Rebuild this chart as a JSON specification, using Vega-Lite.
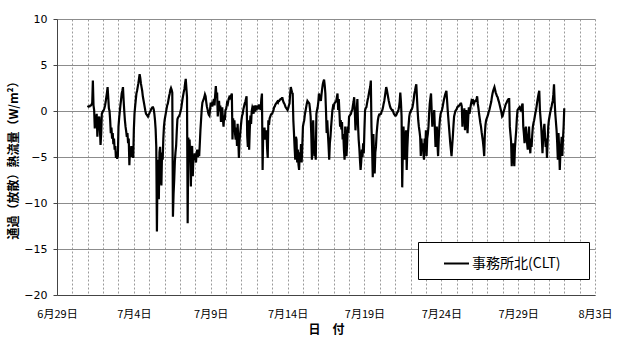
{
"$schema": "https://vega.github.io/schema/vega-lite/v6.json",
"width": 538, "height": 276,
"autosize": {"type": "none"},
"padding": {"left": 57, "top": 19, "right": 30, "bottom": 43},
"background": "white",
"config": {"view": {"stroke": null}},
"datasets": {"flux": [
{"t":"2015-07-01T00:00","v":0.4},{"t":"2015-07-01T01:00","v":0.5},{"t":"2015-07-01T02:00","v":0.5},{"t":"2015-07-01T03:00","v":0.5},{"t":"2015-07-01T04:00","v":0.6},{"t":"2015-07-01T05:00","v":0.6},{"t":"2015-07-01T06:00","v":0.7},{"t":"2015-07-01T07:00","v":0.9},{"t":"2015-07-01T08:00","v":3.3},{"t":"2015-07-01T09:00","v":0.6},{"t":"2015-07-01T10:00","v":0.1},{"t":"2015-07-01T11:00","v":-1.9},{"t":"2015-07-01T12:00","v":-0.5},{"t":"2015-07-01T13:00","v":-1.2},{"t":"2015-07-01T14:00","v":-0.3},{"t":"2015-07-01T15:00","v":-2.8},{"t":"2015-07-01T16:00","v":-1.5},{"t":"2015-07-01T17:00","v":-0.8},{"t":"2015-07-01T18:00","v":-0.6},{"t":"2015-07-01T19:00","v":-2.0},{"t":"2015-07-01T20:00","v":-3.7},{"t":"2015-07-01T21:00","v":-2.5},{"t":"2015-07-01T22:00","v":-0.3},{"t":"2015-07-01T23:00","v":-0.1},
{"t":"2015-07-02T00:00","v":0.0},{"t":"2015-07-02T01:00","v":0.1},{"t":"2015-07-02T02:00","v":0.3},{"t":"2015-07-02T03:00","v":0.6},{"t":"2015-07-02T04:00","v":1.0},{"t":"2015-07-02T05:00","v":1.5},{"t":"2015-07-02T06:00","v":2.0},{"t":"2015-07-02T07:00","v":2.6},{"t":"2015-07-02T08:00","v":1.5},{"t":"2015-07-02T09:00","v":0.3},{"t":"2015-07-02T10:00","v":0.0},{"t":"2015-07-02T11:00","v":-1.0},{"t":"2015-07-02T12:00","v":-2.4},{"t":"2015-07-02T13:00","v":-1.8},{"t":"2015-07-02T14:00","v":-3.0},{"t":"2015-07-02T15:00","v":-2.4},{"t":"2015-07-02T16:00","v":-3.6},{"t":"2015-07-02T17:00","v":-3.0},{"t":"2015-07-02T18:00","v":-4.2},{"t":"2015-07-02T19:00","v":-3.8},{"t":"2015-07-02T20:00","v":-5.1},{"t":"2015-07-02T21:00","v":-4.4},{"t":"2015-07-02T22:00","v":-5.2},{"t":"2015-07-02T23:00","v":-4.9},
{"t":"2015-07-03T00:00","v":-1.7},{"t":"2015-07-03T01:00","v":-0.8},{"t":"2015-07-03T02:00","v":-0.1},{"t":"2015-07-03T03:00","v":0.6},{"t":"2015-07-03T04:00","v":1.2},{"t":"2015-07-03T05:00","v":1.9},{"t":"2015-07-03T06:00","v":2.2},{"t":"2015-07-03T07:00","v":2.6},{"t":"2015-07-03T08:00","v":1.2},{"t":"2015-07-03T09:00","v":0.0},{"t":"2015-07-03T10:00","v":-1.0},{"t":"2015-07-03T11:00","v":-1.7},{"t":"2015-07-03T12:00","v":-2.2},{"t":"2015-07-03T13:00","v":-2.8},{"t":"2015-07-03T14:00","v":-2.4},{"t":"2015-07-03T15:00","v":-3.5},{"t":"2015-07-03T16:00","v":-3.0},{"t":"2015-07-03T17:00","v":-5.9},{"t":"2015-07-03T18:00","v":-4.0},{"t":"2015-07-03T19:00","v":-4.9},{"t":"2015-07-03T20:00","v":-3.8},{"t":"2015-07-03T21:00","v":-5.0},{"t":"2015-07-03T22:00","v":-4.2},{"t":"2015-07-03T23:00","v":-5.1},
{"t":"2015-07-04T00:00","v":-2.0},{"t":"2015-07-04T01:00","v":-0.3},{"t":"2015-07-04T02:00","v":0.5},{"t":"2015-07-04T03:00","v":1.2},{"t":"2015-07-04T04:00","v":1.9},{"t":"2015-07-04T05:00","v":2.2},{"t":"2015-07-04T06:00","v":2.6},{"t":"2015-07-04T07:00","v":3.0},{"t":"2015-07-04T08:00","v":3.5},{"t":"2015-07-04T09:00","v":4.0},{"t":"2015-07-04T10:00","v":3.6},{"t":"2015-07-04T11:00","v":3.0},{"t":"2015-07-04T12:00","v":2.6},{"t":"2015-07-04T13:00","v":2.2},{"t":"2015-07-04T14:00","v":1.6},{"t":"2015-07-04T15:00","v":1.2},{"t":"2015-07-04T16:00","v":0.8},{"t":"2015-07-04T17:00","v":0.4},{"t":"2015-07-04T18:00","v":0.0},{"t":"2015-07-04T19:00","v":-0.3},{"t":"2015-07-04T20:00","v":-0.4},{"t":"2015-07-04T21:00","v":-0.5},{"t":"2015-07-04T22:00","v":-0.6},{"t":"2015-07-04T23:00","v":-0.4},
{"t":"2015-07-05T00:00","v":-0.3},{"t":"2015-07-05T01:00","v":-0.1},{"t":"2015-07-05T02:00","v":0.0},{"t":"2015-07-05T03:00","v":0.2},{"t":"2015-07-05T04:00","v":0.3},{"t":"2015-07-05T05:00","v":0.4},{"t":"2015-07-05T06:00","v":0.4},{"t":"2015-07-05T07:00","v":0.2},{"t":"2015-07-05T08:00","v":-0.3},{"t":"2015-07-05T09:00","v":-1.0},{"t":"2015-07-05T10:00","v":-2.0},{"t":"2015-07-05T11:00","v":-3.9},{"t":"2015-07-05T12:00","v":-13.1},{"t":"2015-07-05T13:00","v":-6.0},{"t":"2015-07-05T14:00","v":-5.3},{"t":"2015-07-05T15:00","v":-9.6},{"t":"2015-07-05T16:00","v":-4.5},{"t":"2015-07-05T17:00","v":-3.9},{"t":"2015-07-05T18:00","v":-7.0},{"t":"2015-07-05T19:00","v":-8.1},{"t":"2015-07-05T20:00","v":-4.5},{"t":"2015-07-05T21:00","v":-5.3},{"t":"2015-07-05T22:00","v":-3.0},{"t":"2015-07-05T23:00","v":-1.7},
{"t":"2015-07-06T00:00","v":-1.0},{"t":"2015-07-06T01:00","v":-0.6},{"t":"2015-07-06T02:00","v":-0.2},{"t":"2015-07-06T03:00","v":0.2},{"t":"2015-07-06T04:00","v":0.6},{"t":"2015-07-06T05:00","v":0.8},{"t":"2015-07-06T06:00","v":1.2},{"t":"2015-07-06T07:00","v":1.6},{"t":"2015-07-06T08:00","v":1.9},{"t":"2015-07-06T09:00","v":2.3},{"t":"2015-07-06T10:00","v":2.5},{"t":"2015-07-06T11:00","v":2.3},{"t":"2015-07-06T12:00","v":2.0},{"t":"2015-07-06T13:00","v":-11.5},{"t":"2015-07-06T14:00","v":-9.0},{"t":"2015-07-06T15:00","v":-7.5},{"t":"2015-07-06T16:00","v":-5.5},{"t":"2015-07-06T17:00","v":-4.5},{"t":"2015-07-06T18:00","v":-3.8},{"t":"2015-07-06T19:00","v":-2.2},{"t":"2015-07-06T20:00","v":-0.9},{"t":"2015-07-06T21:00","v":-0.7},{"t":"2015-07-06T22:00","v":-0.6},{"t":"2015-07-06T23:00","v":-0.5},
{"t":"2015-07-07T00:00","v":-0.3},{"t":"2015-07-07T01:00","v":0.0},{"t":"2015-07-07T02:00","v":0.3},{"t":"2015-07-07T03:00","v":0.8},{"t":"2015-07-07T04:00","v":1.3},{"t":"2015-07-07T05:00","v":1.7},{"t":"2015-07-07T06:00","v":2.1},{"t":"2015-07-07T07:00","v":2.4},{"t":"2015-07-07T08:00","v":3.0},{"t":"2015-07-07T09:00","v":3.5},{"t":"2015-07-07T10:00","v":2.5},{"t":"2015-07-07T11:00","v":1.5},{"t":"2015-07-07T12:00","v":-12.2},{"t":"2015-07-07T13:00","v":-2.9},{"t":"2015-07-07T14:00","v":-4.0},{"t":"2015-07-07T15:00","v":-3.1},{"t":"2015-07-07T16:00","v":-5.0},{"t":"2015-07-07T17:00","v":-8.2},{"t":"2015-07-07T18:00","v":-4.5},{"t":"2015-07-07T19:00","v":-3.8},{"t":"2015-07-07T20:00","v":-7.1},{"t":"2015-07-07T21:00","v":-5.0},{"t":"2015-07-07T22:00","v":-5.3},{"t":"2015-07-07T23:00","v":-4.6},
{"t":"2015-07-08T00:00","v":-5.0},{"t":"2015-07-08T01:00","v":-5.6},{"t":"2015-07-08T02:00","v":-4.6},{"t":"2015-07-08T03:00","v":-4.2},{"t":"2015-07-08T04:00","v":-5.0},{"t":"2015-07-08T05:00","v":-4.4},{"t":"2015-07-08T06:00","v":-4.9},{"t":"2015-07-08T07:00","v":-3.5},{"t":"2015-07-08T08:00","v":-2.0},{"t":"2015-07-08T09:00","v":-0.9},{"t":"2015-07-08T10:00","v":0.2},{"t":"2015-07-08T11:00","v":0.9},{"t":"2015-07-08T12:00","v":1.1},{"t":"2015-07-08T13:00","v":1.3},{"t":"2015-07-08T14:00","v":1.5},{"t":"2015-07-08T15:00","v":1.8},{"t":"2015-07-08T16:00","v":1.6},{"t":"2015-07-08T17:00","v":1.0},{"t":"2015-07-08T18:00","v":0.5},{"t":"2015-07-08T19:00","v":0.2},{"t":"2015-07-08T20:00","v":-0.2},{"t":"2015-07-08T21:00","v":-0.4},{"t":"2015-07-08T22:00","v":-0.5},{"t":"2015-07-08T23:00","v":0.2},
{"t":"2015-07-09T00:00","v":0.9},{"t":"2015-07-09T01:00","v":0.5},{"t":"2015-07-09T02:00","v":0.8},{"t":"2015-07-09T03:00","v":0.7},{"t":"2015-07-09T04:00","v":1.0},{"t":"2015-07-09T05:00","v":1.3},{"t":"2015-07-09T06:00","v":0.6},{"t":"2015-07-09T07:00","v":1.8},{"t":"2015-07-09T08:00","v":2.7},{"t":"2015-07-09T09:00","v":1.5},{"t":"2015-07-09T10:00","v":2.0},{"t":"2015-07-09T11:00","v":-0.6},{"t":"2015-07-09T12:00","v":0.5},{"t":"2015-07-09T13:00","v":1.1},{"t":"2015-07-09T14:00","v":0.0},{"t":"2015-07-09T15:00","v":0.6},{"t":"2015-07-09T16:00","v":-1.2},{"t":"2015-07-09T17:00","v":-0.2},{"t":"2015-07-09T18:00","v":0.4},{"t":"2015-07-09T19:00","v":-0.8},{"t":"2015-07-09T20:00","v":-1.7},{"t":"2015-07-09T21:00","v":-0.5},{"t":"2015-07-09T22:00","v":-1.0},{"t":"2015-07-09T23:00","v":0.1},
{"t":"2015-07-10T00:00","v":0.2},{"t":"2015-07-10T01:00","v":0.6},{"t":"2015-07-10T02:00","v":1.1},{"t":"2015-07-10T03:00","v":0.9},{"t":"2015-07-10T04:00","v":1.3},{"t":"2015-07-10T05:00","v":1.5},{"t":"2015-07-10T06:00","v":1.4},{"t":"2015-07-10T07:00","v":1.6},{"t":"2015-07-10T08:00","v":1.7},{"t":"2015-07-10T09:00","v":1.9},{"t":"2015-07-10T10:00","v":-3.1},{"t":"2015-07-10T11:00","v":-0.8},{"t":"2015-07-10T12:00","v":-2.0},{"t":"2015-07-10T13:00","v":-1.0},{"t":"2015-07-10T14:00","v":-2.5},{"t":"2015-07-10T15:00","v":-3.1},{"t":"2015-07-10T16:00","v":-1.8},{"t":"2015-07-10T17:00","v":-3.8},{"t":"2015-07-10T18:00","v":-1.4},{"t":"2015-07-10T19:00","v":-3.0},{"t":"2015-07-10T20:00","v":-5.1},{"t":"2015-07-10T21:00","v":-3.2},{"t":"2015-07-10T22:00","v":-2.5},{"t":"2015-07-10T23:00","v":-1.7},
{"t":"2015-07-11T00:00","v":-1.0},{"t":"2015-07-11T01:00","v":-0.5},{"t":"2015-07-11T02:00","v":-0.3},{"t":"2015-07-11T03:00","v":0.2},{"t":"2015-07-11T04:00","v":0.5},{"t":"2015-07-11T05:00","v":0.8},{"t":"2015-07-11T06:00","v":1.0},{"t":"2015-07-11T07:00","v":1.3},{"t":"2015-07-11T08:00","v":1.6},{"t":"2015-07-11T09:00","v":-2.7},{"t":"2015-07-11T10:00","v":-3.9},{"t":"2015-07-11T11:00","v":-1.0},{"t":"2015-07-11T12:00","v":-4.2},{"t":"2015-07-11T13:00","v":-2.0},{"t":"2015-07-11T14:00","v":-0.5},{"t":"2015-07-11T15:00","v":-1.4},{"t":"2015-07-11T16:00","v":0.0},{"t":"2015-07-11T17:00","v":0.4},{"t":"2015-07-11T18:00","v":0.2},{"t":"2015-07-11T19:00","v":-0.3},{"t":"2015-07-11T20:00","v":0.6},{"t":"2015-07-11T21:00","v":0.2},{"t":"2015-07-11T22:00","v":0.1},{"t":"2015-07-11T23:00","v":0.4},
{"t":"2015-07-12T00:00","v":0.3},{"t":"2015-07-12T01:00","v":0.6},{"t":"2015-07-12T02:00","v":0.2},{"t":"2015-07-12T03:00","v":0.5},{"t":"2015-07-12T04:00","v":0.4},{"t":"2015-07-12T05:00","v":0.7},{"t":"2015-07-12T06:00","v":0.1},{"t":"2015-07-12T07:00","v":1.3},{"t":"2015-07-12T08:00","v":1.9},{"t":"2015-07-12T09:00","v":-6.4},{"t":"2015-07-12T10:00","v":-2.1},{"t":"2015-07-12T11:00","v":-2.6},{"t":"2015-07-12T12:00","v":-1.8},{"t":"2015-07-12T13:00","v":-3.1},{"t":"2015-07-12T14:00","v":-2.4},{"t":"2015-07-12T15:00","v":-2.1},{"t":"2015-07-12T16:00","v":-4.0},{"t":"2015-07-12T17:00","v":-5.1},{"t":"2015-07-12T18:00","v":-1.0},{"t":"2015-07-12T19:00","v":-1.5},{"t":"2015-07-12T20:00","v":-0.8},{"t":"2015-07-12T21:00","v":-0.6},{"t":"2015-07-12T22:00","v":-0.4},{"t":"2015-07-12T23:00","v":-0.3},
{"t":"2015-07-13T00:00","v":-0.3},{"t":"2015-07-13T01:00","v":-0.1},{"t":"2015-07-13T02:00","v":0.1},{"t":"2015-07-13T03:00","v":0.4},{"t":"2015-07-13T04:00","v":0.5},{"t":"2015-07-13T05:00","v":0.7},{"t":"2015-07-13T06:00","v":0.8},{"t":"2015-07-13T07:00","v":0.9},{"t":"2015-07-13T08:00","v":1.0},{"t":"2015-07-13T09:00","v":0.9},{"t":"2015-07-13T10:00","v":1.1},{"t":"2015-07-13T11:00","v":1.1},{"t":"2015-07-13T12:00","v":1.2},{"t":"2015-07-13T13:00","v":1.3},{"t":"2015-07-13T14:00","v":1.3},{"t":"2015-07-13T15:00","v":1.4},{"t":"2015-07-13T16:00","v":1.4},{"t":"2015-07-13T17:00","v":1.1},{"t":"2015-07-13T18:00","v":0.9},{"t":"2015-07-13T19:00","v":0.8},{"t":"2015-07-13T20:00","v":0.6},{"t":"2015-07-13T21:00","v":0.4},{"t":"2015-07-13T22:00","v":0.3},{"t":"2015-07-13T23:00","v":0.2},
{"t":"2015-07-14T00:00","v":0.1},{"t":"2015-07-14T01:00","v":0.3},{"t":"2015-07-14T02:00","v":0.6},{"t":"2015-07-14T03:00","v":0.8},{"t":"2015-07-14T04:00","v":1.8},{"t":"2015-07-14T05:00","v":2.6},{"t":"2015-07-14T06:00","v":2.3},{"t":"2015-07-14T07:00","v":2.0},{"t":"2015-07-14T08:00","v":1.9},{"t":"2015-07-14T09:00","v":-1.0},{"t":"2015-07-14T10:00","v":-2.4},{"t":"2015-07-14T11:00","v":-4.0},{"t":"2015-07-14T12:00","v":-5.3},{"t":"2015-07-14T13:00","v":-2.8},{"t":"2015-07-14T14:00","v":-3.1},{"t":"2015-07-14T15:00","v":-5.6},{"t":"2015-07-14T16:00","v":-4.2},{"t":"2015-07-14T17:00","v":-5.8},{"t":"2015-07-14T18:00","v":-6.4},{"t":"2015-07-14T19:00","v":-4.5},{"t":"2015-07-14T20:00","v":-5.0},{"t":"2015-07-14T21:00","v":-3.6},{"t":"2015-07-14T22:00","v":-5.6},{"t":"2015-07-14T23:00","v":-3.8},
{"t":"2015-07-15T00:00","v":-1.7},{"t":"2015-07-15T01:00","v":-1.3},{"t":"2015-07-15T02:00","v":-1.0},{"t":"2015-07-15T03:00","v":-0.4},{"t":"2015-07-15T04:00","v":0.0},{"t":"2015-07-15T05:00","v":0.4},{"t":"2015-07-15T06:00","v":0.8},{"t":"2015-07-15T07:00","v":1.1},{"t":"2015-07-15T08:00","v":1.0},{"t":"2015-07-15T09:00","v":0.9},{"t":"2015-07-15T10:00","v":0.8},{"t":"2015-07-15T11:00","v":0.2},{"t":"2015-07-15T12:00","v":-0.6},{"t":"2015-07-15T13:00","v":-2.5},{"t":"2015-07-15T14:00","v":-5.3},{"t":"2015-07-15T15:00","v":-3.0},{"t":"2015-07-15T16:00","v":-1.0},{"t":"2015-07-15T17:00","v":-3.5},{"t":"2015-07-15T18:00","v":-4.9},{"t":"2015-07-15T19:00","v":-4.0},{"t":"2015-07-15T20:00","v":-5.3},{"t":"2015-07-15T21:00","v":-0.3},{"t":"2015-07-15T22:00","v":0.1},{"t":"2015-07-15T23:00","v":0.4},
{"t":"2015-07-16T00:00","v":1.0},{"t":"2015-07-16T01:00","v":1.9},{"t":"2015-07-16T02:00","v":1.5},{"t":"2015-07-16T03:00","v":1.3},{"t":"2015-07-16T04:00","v":1.1},{"t":"2015-07-16T05:00","v":1.8},{"t":"2015-07-16T06:00","v":2.4},{"t":"2015-07-16T07:00","v":2.9},{"t":"2015-07-16T08:00","v":3.2},{"t":"2015-07-16T09:00","v":3.4},{"t":"2015-07-16T10:00","v":2.8},{"t":"2015-07-16T11:00","v":1.9},{"t":"2015-07-16T12:00","v":0.0},{"t":"2015-07-16T13:00","v":-2.4},{"t":"2015-07-16T14:00","v":-1.0},{"t":"2015-07-16T15:00","v":-2.5},{"t":"2015-07-16T16:00","v":-3.8},{"t":"2015-07-16T17:00","v":-5.3},{"t":"2015-07-16T18:00","v":-3.5},{"t":"2015-07-16T19:00","v":-2.8},{"t":"2015-07-16T20:00","v":-1.7},{"t":"2015-07-16T21:00","v":-0.8},{"t":"2015-07-16T22:00","v":0.1},{"t":"2015-07-16T23:00","v":0.5},
{"t":"2015-07-17T00:00","v":0.4},{"t":"2015-07-17T01:00","v":0.8},{"t":"2015-07-17T02:00","v":0.9},{"t":"2015-07-17T03:00","v":1.0},{"t":"2015-07-17T04:00","v":1.1},{"t":"2015-07-17T05:00","v":1.5},{"t":"2015-07-17T06:00","v":1.9},{"t":"2015-07-17T07:00","v":0.1},{"t":"2015-07-17T08:00","v":1.3},{"t":"2015-07-17T09:00","v":-0.2},{"t":"2015-07-17T10:00","v":-1.7},{"t":"2015-07-17T11:00","v":-1.0},{"t":"2015-07-17T12:00","v":-2.0},{"t":"2015-07-17T13:00","v":-1.2},{"t":"2015-07-17T14:00","v":-3.1},{"t":"2015-07-17T15:00","v":-2.5},{"t":"2015-07-17T16:00","v":-4.2},{"t":"2015-07-17T17:00","v":-5.3},{"t":"2015-07-17T18:00","v":-1.7},{"t":"2015-07-17T19:00","v":-3.0},{"t":"2015-07-17T20:00","v":-4.9},{"t":"2015-07-17T21:00","v":-3.5},{"t":"2015-07-17T22:00","v":-1.7},{"t":"2015-07-17T23:00","v":-2.4},
{"t":"2015-07-18T00:00","v":-0.6},{"t":"2015-07-18T01:00","v":-0.5},{"t":"2015-07-18T02:00","v":-0.4},{"t":"2015-07-18T03:00","v":-0.3},{"t":"2015-07-18T04:00","v":0.0},{"t":"2015-07-18T05:00","v":0.1},{"t":"2015-07-18T06:00","v":0.6},{"t":"2015-07-18T07:00","v":1.0},{"t":"2015-07-18T08:00","v":1.5},{"t":"2015-07-18T09:00","v":0.0},{"t":"2015-07-18T10:00","v":-2.1},{"t":"2015-07-18T11:00","v":-0.8},{"t":"2015-07-18T12:00","v":0.1},{"t":"2015-07-18T13:00","v":1.3},{"t":"2015-07-18T14:00","v":-1.5},{"t":"2015-07-18T15:00","v":-3.1},{"t":"2015-07-18T16:00","v":-4.0},{"t":"2015-07-18T17:00","v":-5.3},{"t":"2015-07-18T18:00","v":-6.4},{"t":"2015-07-18T19:00","v":-5.5},{"t":"2015-07-18T20:00","v":-4.2},{"t":"2015-07-18T21:00","v":-5.0},{"t":"2015-07-18T22:00","v":-3.5},{"t":"2015-07-18T23:00","v":-4.6},
{"t":"2015-07-19T00:00","v":-2.0},{"t":"2015-07-19T01:00","v":0.1},{"t":"2015-07-19T02:00","v":0.3},{"t":"2015-07-19T03:00","v":0.4},{"t":"2015-07-19T04:00","v":0.8},{"t":"2015-07-19T05:00","v":1.2},{"t":"2015-07-19T06:00","v":1.5},{"t":"2015-07-19T07:00","v":1.9},{"t":"2015-07-19T08:00","v":2.3},{"t":"2015-07-19T09:00","v":2.6},{"t":"2015-07-19T10:00","v":3.3},{"t":"2015-07-19T11:00","v":-1.7},{"t":"2015-07-19T12:00","v":-4.0},{"t":"2015-07-19T13:00","v":-7.2},{"t":"2015-07-19T14:00","v":-2.5},{"t":"2015-07-19T15:00","v":-5.0},{"t":"2015-07-19T16:00","v":-6.8},{"t":"2015-07-19T17:00","v":-4.5},{"t":"2015-07-19T18:00","v":-3.9},{"t":"2015-07-19T19:00","v":-2.5},{"t":"2015-07-19T20:00","v":-1.7},{"t":"2015-07-19T21:00","v":-1.0},{"t":"2015-07-19T22:00","v":-0.6},{"t":"2015-07-19T23:00","v":-0.4},
{"t":"2015-07-20T00:00","v":-0.4},{"t":"2015-07-20T01:00","v":-0.3},{"t":"2015-07-20T02:00","v":-0.3},{"t":"2015-07-20T03:00","v":0.0},{"t":"2015-07-20T04:00","v":0.1},{"t":"2015-07-20T05:00","v":0.4},{"t":"2015-07-20T06:00","v":0.8},{"t":"2015-07-20T07:00","v":1.1},{"t":"2015-07-20T08:00","v":1.6},{"t":"2015-07-20T09:00","v":2.1},{"t":"2015-07-20T10:00","v":2.6},{"t":"2015-07-20T11:00","v":2.3},{"t":"2015-07-20T12:00","v":1.9},{"t":"2015-07-20T13:00","v":1.5},{"t":"2015-07-20T14:00","v":1.1},{"t":"2015-07-20T15:00","v":0.8},{"t":"2015-07-20T16:00","v":0.5},{"t":"2015-07-20T17:00","v":0.3},{"t":"2015-07-20T18:00","v":0.2},{"t":"2015-07-20T19:00","v":0.1},{"t":"2015-07-20T20:00","v":0.1},{"t":"2015-07-20T21:00","v":-0.1},{"t":"2015-07-20T22:00","v":-0.3},{"t":"2015-07-20T23:00","v":-0.4},
{"t":"2015-07-21T00:00","v":-0.5},{"t":"2015-07-21T01:00","v":-0.5},{"t":"2015-07-21T02:00","v":-0.4},{"t":"2015-07-21T03:00","v":-0.2},{"t":"2015-07-21T04:00","v":-0.1},{"t":"2015-07-21T05:00","v":0.1},{"t":"2015-07-21T06:00","v":0.4},{"t":"2015-07-21T07:00","v":1.0},{"t":"2015-07-21T08:00","v":2.0},{"t":"2015-07-21T09:00","v":1.0},{"t":"2015-07-21T10:00","v":-0.6},{"t":"2015-07-21T11:00","v":-8.3},{"t":"2015-07-21T12:00","v":-4.2},{"t":"2015-07-21T13:00","v":-1.7},{"t":"2015-07-21T14:00","v":-3.5},{"t":"2015-07-21T15:00","v":-5.3},{"t":"2015-07-21T16:00","v":-3.0},{"t":"2015-07-21T17:00","v":-2.1},{"t":"2015-07-21T18:00","v":-6.4},{"t":"2015-07-21T19:00","v":-4.0},{"t":"2015-07-21T20:00","v":-2.4},{"t":"2015-07-21T21:00","v":-1.5},{"t":"2015-07-21T22:00","v":-0.6},{"t":"2015-07-21T23:00","v":-0.2},
{"t":"2015-07-22T00:00","v":-0.1},{"t":"2015-07-22T01:00","v":0.1},{"t":"2015-07-22T02:00","v":0.2},{"t":"2015-07-22T03:00","v":0.4},{"t":"2015-07-22T04:00","v":0.8},{"t":"2015-07-22T05:00","v":1.3},{"t":"2015-07-22T06:00","v":1.9},{"t":"2015-07-22T07:00","v":2.2},{"t":"2015-07-22T08:00","v":2.6},{"t":"2015-07-22T09:00","v":2.9},{"t":"2015-07-22T10:00","v":1.5},{"t":"2015-07-22T11:00","v":0.1},{"t":"2015-07-22T12:00","v":-1.0},{"t":"2015-07-22T13:00","v":-1.7},{"t":"2015-07-22T14:00","v":-2.2},{"t":"2015-07-22T15:00","v":-2.8},{"t":"2015-07-22T16:00","v":-4.9},{"t":"2015-07-22T17:00","v":-3.0},{"t":"2015-07-22T18:00","v":-4.2},{"t":"2015-07-22T19:00","v":-3.5},{"t":"2015-07-22T20:00","v":-4.6},{"t":"2015-07-22T21:00","v":-5.3},{"t":"2015-07-22T22:00","v":-3.0},{"t":"2015-07-22T23:00","v":-4.2},
{"t":"2015-07-23T00:00","v":-2.1},{"t":"2015-07-23T01:00","v":-4.9},{"t":"2015-07-23T02:00","v":-3.0},{"t":"2015-07-23T03:00","v":-2.5},{"t":"2015-07-23T04:00","v":-1.7},{"t":"2015-07-23T05:00","v":-0.3},{"t":"2015-07-23T06:00","v":0.8},{"t":"2015-07-23T07:00","v":1.4},{"t":"2015-07-23T08:00","v":1.9},{"t":"2015-07-23T09:00","v":0.0},{"t":"2015-07-23T10:00","v":-1.7},{"t":"2015-07-23T11:00","v":-0.5},{"t":"2015-07-23T12:00","v":-0.8},{"t":"2015-07-23T13:00","v":0.1},{"t":"2015-07-23T14:00","v":-2.0},{"t":"2015-07-23T15:00","v":-3.9},{"t":"2015-07-23T16:00","v":-2.5},{"t":"2015-07-23T17:00","v":-1.7},{"t":"2015-07-23T18:00","v":-3.5},{"t":"2015-07-23T19:00","v":-4.9},{"t":"2015-07-23T20:00","v":-3.0},{"t":"2015-07-23T21:00","v":-1.7},{"t":"2015-07-23T22:00","v":-0.8},{"t":"2015-07-23T23:00","v":-0.3},
{"t":"2015-07-24T00:00","v":-0.1},{"t":"2015-07-24T01:00","v":0.1},{"t":"2015-07-24T02:00","v":0.4},{"t":"2015-07-24T03:00","v":0.8},{"t":"2015-07-24T04:00","v":1.2},{"t":"2015-07-24T05:00","v":1.5},{"t":"2015-07-24T06:00","v":1.8},{"t":"2015-07-24T07:00","v":2.0},{"t":"2015-07-24T08:00","v":2.2},{"t":"2015-07-24T09:00","v":1.2},{"t":"2015-07-24T10:00","v":0.1},{"t":"2015-07-24T11:00","v":-0.8},{"t":"2015-07-24T12:00","v":-1.7},{"t":"2015-07-24T13:00","v":-2.6},{"t":"2015-07-24T14:00","v":-3.5},{"t":"2015-07-24T15:00","v":-4.2},{"t":"2015-07-24T16:00","v":-4.9},{"t":"2015-07-24T17:00","v":-3.8},{"t":"2015-07-24T18:00","v":-2.8},{"t":"2015-07-24T19:00","v":-1.6},{"t":"2015-07-24T20:00","v":-0.6},{"t":"2015-07-24T21:00","v":-0.3},{"t":"2015-07-24T22:00","v":0.0},{"t":"2015-07-24T23:00","v":0.1},
{"t":"2015-07-25T00:00","v":0.2},{"t":"2015-07-25T01:00","v":0.4},{"t":"2015-07-25T02:00","v":0.5},{"t":"2015-07-25T03:00","v":0.5},{"t":"2015-07-25T04:00","v":0.6},{"t":"2015-07-25T05:00","v":0.7},{"t":"2015-07-25T06:00","v":0.8},{"t":"2015-07-25T07:00","v":0.8},{"t":"2015-07-25T08:00","v":0.5},{"t":"2015-07-25T09:00","v":-1.7},{"t":"2015-07-25T10:00","v":0.1},{"t":"2015-07-25T11:00","v":-0.8},{"t":"2015-07-25T12:00","v":0.3},{"t":"2015-07-25T13:00","v":-2.1},{"t":"2015-07-25T14:00","v":-0.5},{"t":"2015-07-25T15:00","v":0.1},{"t":"2015-07-25T16:00","v":-1.0},{"t":"2015-07-25T17:00","v":-2.4},{"t":"2015-07-25T18:00","v":-0.8},{"t":"2015-07-25T19:00","v":0.4},{"t":"2015-07-25T20:00","v":-0.3},{"t":"2015-07-25T21:00","v":0.1},{"t":"2015-07-25T22:00","v":0.6},{"t":"2015-07-25T23:00","v":1.0},
{"t":"2015-07-26T00:00","v":0.8},{"t":"2015-07-26T01:00","v":1.3},{"t":"2015-07-26T02:00","v":1.0},{"t":"2015-07-26T03:00","v":0.8},{"t":"2015-07-26T04:00","v":1.0},{"t":"2015-07-26T05:00","v":1.1},{"t":"2015-07-26T06:00","v":1.1},{"t":"2015-07-26T07:00","v":1.3},{"t":"2015-07-26T08:00","v":1.6},{"t":"2015-07-26T09:00","v":0.8},{"t":"2015-07-26T10:00","v":0.3},{"t":"2015-07-26T11:00","v":-0.3},{"t":"2015-07-26T12:00","v":-0.8},{"t":"2015-07-26T13:00","v":-1.3},{"t":"2015-07-26T14:00","v":-1.7},{"t":"2015-07-26T15:00","v":-2.3},{"t":"2015-07-26T16:00","v":-2.8},{"t":"2015-07-26T17:00","v":-3.3},{"t":"2015-07-26T18:00","v":-4.0},{"t":"2015-07-26T19:00","v":-4.9},{"t":"2015-07-26T20:00","v":-2.5},{"t":"2015-07-26T21:00","v":-1.5},{"t":"2015-07-26T22:00","v":-1.0},{"t":"2015-07-26T23:00","v":-0.8},
{"t":"2015-07-27T00:00","v":-0.6},{"t":"2015-07-27T01:00","v":-0.4},{"t":"2015-07-27T02:00","v":-0.1},{"t":"2015-07-27T03:00","v":0.1},{"t":"2015-07-27T04:00","v":0.4},{"t":"2015-07-27T05:00","v":0.7},{"t":"2015-07-27T06:00","v":1.0},{"t":"2015-07-27T07:00","v":1.5},{"t":"2015-07-27T08:00","v":1.9},{"t":"2015-07-27T09:00","v":2.2},{"t":"2015-07-27T10:00","v":2.4},{"t":"2015-07-27T11:00","v":2.6},{"t":"2015-07-27T12:00","v":2.3},{"t":"2015-07-27T13:00","v":2.0},{"t":"2015-07-27T14:00","v":1.8},{"t":"2015-07-27T15:00","v":1.6},{"t":"2015-07-27T16:00","v":1.5},{"t":"2015-07-27T17:00","v":1.2},{"t":"2015-07-27T18:00","v":1.0},{"t":"2015-07-27T19:00","v":0.7},{"t":"2015-07-27T20:00","v":0.4},{"t":"2015-07-27T21:00","v":0.1},{"t":"2015-07-27T22:00","v":-0.2},{"t":"2015-07-27T23:00","v":-0.6},
{"t":"2015-07-28T00:00","v":-0.5},{"t":"2015-07-28T01:00","v":-0.2},{"t":"2015-07-28T02:00","v":0.1},{"t":"2015-07-28T03:00","v":0.3},{"t":"2015-07-28T04:00","v":0.6},{"t":"2015-07-28T05:00","v":0.8},{"t":"2015-07-28T06:00","v":0.9},{"t":"2015-07-28T07:00","v":1.1},{"t":"2015-07-28T08:00","v":1.2},{"t":"2015-07-28T09:00","v":1.3},{"t":"2015-07-28T10:00","v":1.3},{"t":"2015-07-28T11:00","v":-1.7},{"t":"2015-07-28T12:00","v":-2.5},{"t":"2015-07-28T13:00","v":-3.3},{"t":"2015-07-28T14:00","v":-6.0},{"t":"2015-07-28T15:00","v":-4.0},{"t":"2015-07-28T16:00","v":-3.5},{"t":"2015-07-28T17:00","v":-5.0},{"t":"2015-07-28T18:00","v":-6.0},{"t":"2015-07-28T19:00","v":-4.0},{"t":"2015-07-28T20:00","v":-3.0},{"t":"2015-07-28T21:00","v":-2.1},{"t":"2015-07-28T22:00","v":-0.8},{"t":"2015-07-28T23:00","v":0.1},
{"t":"2015-07-29T00:00","v":0.2},{"t":"2015-07-29T01:00","v":0.3},{"t":"2015-07-29T02:00","v":0.4},{"t":"2015-07-29T03:00","v":0.2},{"t":"2015-07-29T04:00","v":0.1},{"t":"2015-07-29T05:00","v":0.4},{"t":"2015-07-29T06:00","v":0.6},{"t":"2015-07-29T07:00","v":0.8},{"t":"2015-07-29T08:00","v":-1.7},{"t":"2015-07-29T09:00","v":-2.5},{"t":"2015-07-29T10:00","v":-3.5},{"t":"2015-07-29T11:00","v":-2.5},{"t":"2015-07-29T12:00","v":-1.7},{"t":"2015-07-29T13:00","v":-2.8},{"t":"2015-07-29T14:00","v":-3.5},{"t":"2015-07-29T15:00","v":-4.2},{"t":"2015-07-29T16:00","v":-2.8},{"t":"2015-07-29T17:00","v":-1.7},{"t":"2015-07-29T18:00","v":-3.5},{"t":"2015-07-29T19:00","v":-4.6},{"t":"2015-07-29T20:00","v":-3.0},{"t":"2015-07-29T21:00","v":-3.9},{"t":"2015-07-29T22:00","v":-2.6},{"t":"2015-07-29T23:00","v":-1.7},
{"t":"2015-07-30T00:00","v":-1.3},{"t":"2015-07-30T01:00","v":-1.0},{"t":"2015-07-30T02:00","v":-0.6},{"t":"2015-07-30T03:00","v":-0.2},{"t":"2015-07-30T04:00","v":0.1},{"t":"2015-07-30T05:00","v":0.6},{"t":"2015-07-30T06:00","v":1.1},{"t":"2015-07-30T07:00","v":1.5},{"t":"2015-07-30T08:00","v":1.9},{"t":"2015-07-30T09:00","v":2.2},{"t":"2015-07-30T10:00","v":0.1},{"t":"2015-07-30T11:00","v":-0.8},{"t":"2015-07-30T12:00","v":-1.7},{"t":"2015-07-30T13:00","v":-3.0},{"t":"2015-07-30T14:00","v":-4.6},{"t":"2015-07-30T15:00","v":-3.0},{"t":"2015-07-30T16:00","v":-2.0},{"t":"2015-07-30T17:00","v":-1.4},{"t":"2015-07-30T18:00","v":-2.8},{"t":"2015-07-30T19:00","v":-3.9},{"t":"2015-07-30T20:00","v":-3.0},{"t":"2015-07-30T21:00","v":-5.1},{"t":"2015-07-30T22:00","v":-3.4},{"t":"2015-07-30T23:00","v":-1.7},
{"t":"2015-07-31T00:00","v":-1.0},{"t":"2015-07-31T01:00","v":-0.6},{"t":"2015-07-31T02:00","v":-0.2},{"t":"2015-07-31T03:00","v":0.1},{"t":"2015-07-31T04:00","v":0.4},{"t":"2015-07-31T05:00","v":0.8},{"t":"2015-07-31T06:00","v":1.1},{"t":"2015-07-31T07:00","v":1.8},{"t":"2015-07-31T08:00","v":2.9},{"t":"2015-07-31T09:00","v":1.0},{"t":"2015-07-31T10:00","v":-0.3},{"t":"2015-07-31T11:00","v":-1.2},{"t":"2015-07-31T12:00","v":-2.1},{"t":"2015-07-31T13:00","v":-3.5},{"t":"2015-07-31T14:00","v":-5.3},{"t":"2015-07-31T15:00","v":-2.4},{"t":"2015-07-31T16:00","v":-4.0},{"t":"2015-07-31T17:00","v":-6.4},{"t":"2015-07-31T18:00","v":-4.5},{"t":"2015-07-31T19:00","v":-3.9},{"t":"2015-07-31T20:00","v":-2.8},{"t":"2015-07-31T21:00","v":-4.9},{"t":"2015-07-31T22:00","v":-3.0},{"t":"2015-07-31T23:00","v":-1.7},
{"t":"2015-08-01T00:00","v":0.3}
]},
"data": {"name": "flux"},
"mark": {"type": "line", "strokeWidth": 2.2},
"encoding": {
  "x": {"field": "t", "type": "temporal",
    "scale": {"domain": [{"year":2015,"month":6,"date":29},{"year":2015,"month":8,"date":3}]},
    "axis": {
      "values": [{"year":2015,"month":6,"date":29},{"year":2015,"month":6,"date":30},{"year":2015,"month":7,"date":1},{"year":2015,"month":7,"date":2},{"year":2015,"month":7,"date":3},{"year":2015,"month":7,"date":4},{"year":2015,"month":7,"date":5},{"year":2015,"month":7,"date":6},{"year":2015,"month":7,"date":7},{"year":2015,"month":7,"date":8},{"year":2015,"month":7,"date":9},{"year":2015,"month":7,"date":10},{"year":2015,"month":7,"date":11},{"year":2015,"month":7,"date":12},{"year":2015,"month":7,"date":13},{"year":2015,"month":7,"date":14},{"year":2015,"month":7,"date":15},{"year":2015,"month":7,"date":16},{"year":2015,"month":7,"date":17},{"year":2015,"month":7,"date":18},{"year":2015,"month":7,"date":19},{"year":2015,"month":7,"date":20},{"year":2015,"month":7,"date":21},{"year":2015,"month":7,"date":22},{"year":2015,"month":7,"date":23},{"year":2015,"month":7,"date":24},{"year":2015,"month":7,"date":25},{"year":2015,"month":7,"date":26},{"year":2015,"month":7,"date":27},{"year":2015,"month":7,"date":28},{"year":2015,"month":7,"date":29},{"year":2015,"month":7,"date":30},{"year":2015,"month":7,"date":31},{"year":2015,"month":8,"date":1},{"year":2015,"month":8,"date":2},{"year":2015,"month":8,"date":3}],
      "labelExpr": "(round((datum.value - time(datetime(2015,5,29))) / 86400000) % 5 == 0) ? timeFormat(datum.value, '%-m月%-d日') : ''",
      "grid": true, "gridColor": "#9a9a9a", "gridDash": [2, 2], "gridWidth": 1,
      "domainColor": "#444", "ticks": false,
      "labelFont": "Noto Sans CJK JP", "labelFontSize": 11, "labelColor": "black", "labelPadding": 13,
      "labelOverlap": false, "labelFlush": false, "labelBound": false,
      "title": "日　付", "titleFont": "Noto Sans CJK JP", "titleFontSize": 12, "titleFontWeight": "bold", "titleColor": "black", "titlePadding": 5
    }
  },
  "y": {"field": "v", "type": "quantitative",
    "scale": {"domain": [-20, 10], "nice": false, "zero": false},
    "axis": {
      "values": [-20, -15, -10, -5, 0, 5, 10],
      "grid": true, "gridColor": "#8c8c8c", "gridWidth": 1,
      "domainColor": "#444", "tickColor": "#444", "tickSize": 4,
      "labelFont": "DejaVu Sans", "labelFontSize": 11, "labelColor": "black", "labelPadding": 6,
      "title": "通過（放散）熱流量（W/m²）", "titleFont": "Noto Sans CJK JP", "titleFontSize": 12, "titleFontWeight": "bold", "titleColor": "black", "titlePadding": 3
    }
  },
  "color": {"datum": "事務所北(CLT)", "type": "nominal",
    "scale": {"range": ["black"]},
    "legend": {"orient": "none", "legendX": 361, "legendY": 223, "title": null,
      "strokeColor": "black", "fillColor": "white", "padding": 8,
      "symbolType": "stroke", "symbolStrokeWidth": 2, "symbolSize": 625, "symbolOffset": 17,
      "labelFont": "Noto Sans CJK JP", "labelFontSize": 14, "labelColor": "black", "labelOffset": 2,
      "labelExpr": "datum.label + '\u2800\u2800'"}
  }
}
}
